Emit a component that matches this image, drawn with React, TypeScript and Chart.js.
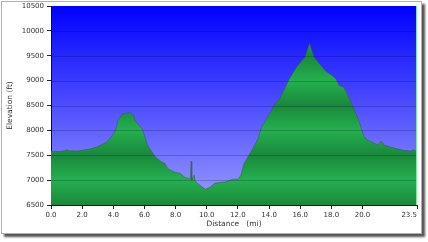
import { useEffect, useRef } from "react";
import { Chart, registerables } from "chart.js";
Chart.register(...registerables);

const distances = [
  0, 0.5, 0.9, 1.0, 1.2, 1.7, 2.4, 2.9, 3.3, 3.6, 3.8, 4.1, 4.2, 4.3, 4.6, 4.8, 5.1, 5.3, 5.4, 5.85,
  6.0, 6.2, 6.7, 7.1, 7.3, 7.5, 7.9, 8.3, 8.6, 8.95, 9.0, 9.04, 9.2, 9.25, 9.4, 9.9, 10.2, 10.5, 11.2,
  11.7, 12.0, 12.2, 12.4, 12.9, 13.3, 13.5, 13.9, 14.4, 14.7, 15.0, 15.3, 15.75, 16.1, 16.3, 16.45,
  16.6, 16.75, 16.9, 17.25, 17.6, 18.0, 18.3, 18.5, 18.8, 19.1, 19.5, 19.8, 20.1, 20.3, 20.6, 21.0,
  21.2, 21.4, 21.9, 22.6, 23.1, 23.3, 23.5,
];
const elevations = [
  7580, 7575, 7590, 7610, 7590, 7585, 7620, 7660, 7720, 7770, 7845, 7965, 8060, 8200, 8330, 8345, 8350, 8300, 8200, 8030,
  7900, 7700, 7465, 7365, 7340, 7230, 7165, 7135, 7055, 7020, 7380, 7000, 7100, 6980, 6935, 6815, 6855, 6935, 6965,
  7020, 7015, 7100, 7335, 7600, 7835, 8050, 8265, 8535, 8635, 8835, 9035, 9265, 9400, 9465, 9600,
  9750, 9600, 9465, 9335, 9200, 9115, 9035, 8900, 8865, 8680, 8400, 8165, 7865, 7815, 7765, 7700,
  7785, 7700, 7655, 7600, 7585, 7610, 7565,
];
const xTickValues = [0, 2, 4, 6, 8, 10, 12, 14, 16, 18, 20, 23.5];
const yMin = 6500;
const yMax = 10500;
const yStep = 500;

export default function App() {
  const ref = useRef<HTMLCanvasElement>(null);
  useEffect(() => {
    document.body.style.margin = "0";
    const canvas = ref.current;
    if (!canvas) return;

    const plotPlugin = {
      id: "plotDecor",
      beforeDraw(chart: any) {
        const { ctx, chartArea: a } = chart;
        const g = ctx.createLinearGradient(0, a.top, 0, a.bottom);
        g.addColorStop(0, "#0000ff");
        g.addColorStop(1, "#9a9cff");
        ctx.save();
        ctx.fillStyle = g;
        ctx.fillRect(a.left, a.top, a.right - a.left, a.bottom - a.top);
        ctx.restore();
      },
      afterDatasetsDraw(chart: any) {
        const { ctx, chartArea: a } = chart;
        const ys = chart.scales.y;
        ctx.save();
        ctx.strokeStyle = "rgba(0,0,50,0.22)";
        ctx.lineWidth = 1;
        for (let v = yMin + yStep; v < yMax; v += yStep) {
          const py = Math.round(ys.getPixelForValue(v)) + 0.5;
          ctx.beginPath();
          ctx.moveTo(a.left, py);
          ctx.lineTo(a.right, py);
          ctx.stroke();
        }
        ctx.strokeStyle = "#7dea9a";
        ctx.beginPath();
        ctx.moveTo(Math.round(a.right) - 0.5, a.top);
        ctx.lineTo(Math.round(a.right) - 0.5, a.bottom);
        ctx.stroke();
        ctx.restore();
      },
    };

    const fillFn = (c: any) => {
      const chart = c.chart;
      const a = chart.chartArea;
      if (!a) return "#22a84a";
      const ys = chart.scales.y;
      const h = a.bottom - a.top;
      const g = chart.ctx.createLinearGradient(0, a.top, 0, a.bottom);
      let i = 0;
      for (let v = yMin; v <= yMax; v += yStep, i++) {
        const t = Math.min(1, Math.max(0, (ys.getPixelForValue(v) - a.top) / h));
        g.addColorStop(t, i % 2 === 0 ? "#1a883b" : "#25b04f");
      }
      return g;
    };

    const font = { family: "'DejaVu Sans', Verdana, sans-serif", size: 7 };
    const chart = new Chart(canvas, {
      type: "line",
      data: {
        datasets: [
          {
            data: distances.map((d, i) => ({ x: d, y: elevations[i] })),
            fill: "start",
            backgroundColor: fillFn,
            borderColor: "rgba(55,95,60,0.7)",
            borderWidth: 0.8,
            pointRadius: 0,
            tension: 0,
          },
        ],
      },
      plugins: [plotPlugin],
      options: {
        animation: false,
        responsive: false,
        events: [],
        layout: { padding: { left: 0, right: 4, top: 4, bottom: 0 } },
        plugins: { legend: { display: false }, tooltip: { enabled: false } },
        scales: {
          x: {
            type: "linear",
            min: 0,
            max: 23.5,
            afterBuildTicks: (s: any) => {
              s.ticks = xTickValues.map((v) => ({ value: v }));
            },
            afterFit: (s: any) => {
              s.height = 28;
              s.paddingLeft = 0;
              s.paddingRight = 0;
            },
            ticks: {
              autoSkip: false,
              maxRotation: 0,
              padding: 2,
              color: "#333",
              font,
              callback: (v: any) =>
                Number(v) === 23.5 ? "23.5       " : Number(v).toFixed(1),
            },
            grid: { drawOnChartArea: false, tickLength: 4, color: "#222" },
            border: { display: true, color: "#111" },
            title: {
              display: true,
              text: "Distance   (mi)",
              color: "#333",
              font: { family: "'DejaVu Sans', Verdana, sans-serif", size: 7.5 },
              padding: { top: 0, bottom: 4 },
            },
          },
          y: {
            min: yMin,
            max: yMax,
            afterFit: (s: any) => {
              s.width = 49;
              s.paddingTop = 0;
              s.paddingBottom = 0;
            },
            ticks: {
              stepSize: yStep,
              padding: 3,
              color: "#333",
              font,
              callback: (v: any) => String(v),
            },
            grid: { drawOnChartArea: false, tickLength: 4, color: "#222" },
            border: { display: true, color: "#111" },
            title: {
              display: true,
              text: "Elevation (ft)",
              color: "#333",
              font: { family: "'DejaVu Sans', Verdana, sans-serif", size: 7.5 },
              padding: { top: 4, bottom: 0 },
            },
          },
        },
      },
    });
    return () => chart.destroy();
  }, []);

  return (
    <div
      style={{
        position: "absolute",
        left: 1,
        top: 1,
        width: 419,
        height: 231,
        border: "1px solid #b0b0b0",
        background: "#fff",
        boxShadow: "3px 3px 2px #555",
      }}
    >
      <canvas ref={ref} width={419} height={231} style={{ display: "block" }} />
    </div>
  );
}
